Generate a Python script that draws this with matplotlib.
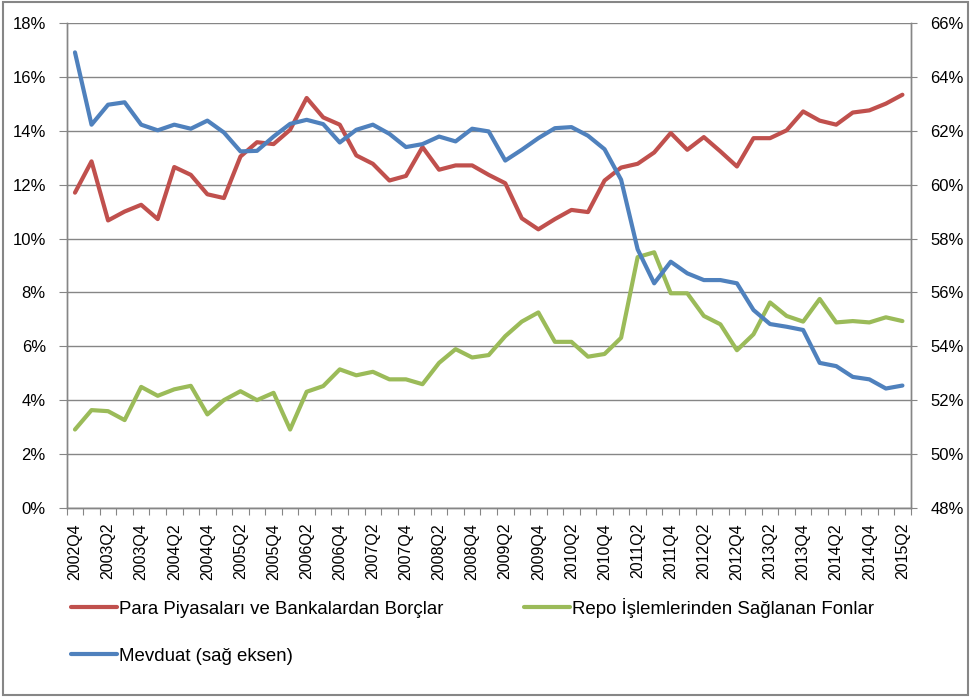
import numpy as np
import matplotlib
matplotlib.use('Agg')
import matplotlib.pyplot as plt
from matplotlib.patches import Rectangle

plt.rcParams['font.family'] = ['Liberation Sans', 'DejaVu Sans']

# quarters 2002Q4 .. 2015Q2
quarters = ['2002Q4'] + ['%dQ%d' % (y, q) for y in range(2003, 2016) for q in range(1, 5)]
quarters = quarters[:quarters.index('2015Q2') + 1]

# Para Piyasalari ve Bankalardan Borclar (%), left axis
para = [11.70, 12.86, 10.67, 11.00, 11.25, 10.72, 12.65, 12.36, 11.64, 11.50,
        13.04, 13.57, 13.50, 14.03, 15.21, 14.49, 14.22, 13.08, 12.77, 12.15,
        12.32, 13.39, 12.55, 12.71, 12.71, 12.36, 12.05, 10.75, 10.34, 10.72,
        11.06, 10.98, 12.15, 12.63, 12.77, 13.19, 13.91, 13.29, 13.76, 13.23,
        12.67, 13.72, 13.72, 14.01, 14.71, 14.37, 14.22, 14.67, 14.75, 15.00,
        15.33]

# Repo Islemlerinden Saglanan Fonlar (%), left axis
repo = [2.92, 3.64, 3.60, 3.27, 4.50, 4.17, 4.41, 4.54, 3.48, 4.01,
        4.34, 4.01, 4.28, 2.92, 4.32, 4.53, 5.15, 4.93, 5.06, 4.78,
        4.78, 4.60, 5.39, 5.90, 5.59, 5.68, 6.38, 6.92, 7.26, 6.17,
        6.17, 5.62, 5.72, 6.32, 9.31, 9.49, 7.97, 7.97, 7.13, 6.82,
        5.86, 6.45, 7.63, 7.13, 6.92, 7.76, 6.89, 6.94, 6.89, 7.08,
        6.94]

# Mevduat (%), right axis
mevduat = [64.90, 62.22, 62.96, 63.05, 62.22, 62.01, 62.22, 62.07, 62.37, 61.93,
           61.23, 61.25, 61.78, 62.25, 62.40, 62.24, 61.56, 62.03, 62.22, 61.88,
           61.39, 61.50, 61.78, 61.60, 62.07, 61.97, 60.89, 61.29, 61.72, 62.09,
           62.13, 61.81, 61.31, 60.18, 57.60, 56.34, 57.14, 56.71, 56.46, 56.46,
           56.34, 55.35, 54.83, 54.73, 54.61, 53.39, 53.27, 52.87, 52.78, 52.44,
           52.55]

red = '#C0504D'
green = '#9BBB59'
blue = '#4F81BD'
grey = '#868686'

fig = plt.figure(figsize=(9.71, 6.97), dpi=100)
ax = fig.add_axes([66.7 / 971, 1 - 508.3 / 697, (910.7 - 66.7) / 971, (508.3 - 22.7) / 697])
ax2 = ax.twinx()

x = np.arange(len(quarters))
kw = dict(lw=3.0, solid_joinstyle='round', solid_capstyle='round')
l1, = ax.plot(x, para, color=red, label='Para Piyasaları ve Bankalardan Borçlar', **kw)
l2, = ax.plot(x, repo, color=green, label='Repo İşlemlerinden Sağlanan Fonlar', **kw)
l3, = ax2.plot(x, mevduat, color=blue, label='Mevduat (sağ eksen)', **kw)

ax.set_xlim(-0.5, len(quarters) - 0.5)
ax.set_ylim(0, 18)
ax2.set_ylim(48, 66)
ax.set_yticks(np.arange(0, 19, 2))
ax2.set_yticks(np.arange(48, 67, 2))
ax.set_yticklabels(['%d%%' % v for v in range(0, 19, 2)])
ax2.set_yticklabels(['%d%%' % v for v in range(48, 67, 2)])
ax.grid(axis='y', color=grey, lw=1.0)
ax.set_axisbelow(True)

# category boundary ticks, labels on every second quarter
ax.set_xticks(np.arange(-0.5, len(quarters), 1.0))
ax.set_xticklabels([])
ax.set_xticks(x[::2], minor=True)
ax.set_xticklabels(quarters[::2], minor=True, rotation=90, fontsize=11.5)
ax.tick_params(axis='x', which='major', length=5, color=grey, direction='out')
ax.tick_params(axis='x', which='minor', length=0, pad=10.5)
ax.tick_params(axis='y', length=5.5, color=grey, labelsize=12, pad=9.5)
ax2.tick_params(axis='y', length=4, color=grey, labelsize=12, pad=10)

for a in (ax, ax2):
    a.spines['top'].set_visible(False)
    for s in ('left', 'right', 'bottom'):
        a.spines[s].set_color(grey)
        a.spines[s].set_linewidth(1.0)

# row-major order for the two-column legend
fig.legend([l1, l3, l2], [l1.get_label(), l3.get_label(), l2.get_label()],
           loc='upper left', bbox_to_anchor=(71 / 971, 1 - 598 / 697), ncol=2,
           frameon=False, fontsize=13.45, handlelength=2.45, handletextpad=0.1,
           columnspacing=4.35, labelspacing=1.6, borderpad=0, borderaxespad=0)

fig.patches.append(Rectangle((3 / 971, 2 / 697), 965 / 971, 693 / 697, transform=fig.transFigure,
                             fill=False, edgecolor=grey, lw=1.5))

fig.savefig('out.png', dpi=100)
